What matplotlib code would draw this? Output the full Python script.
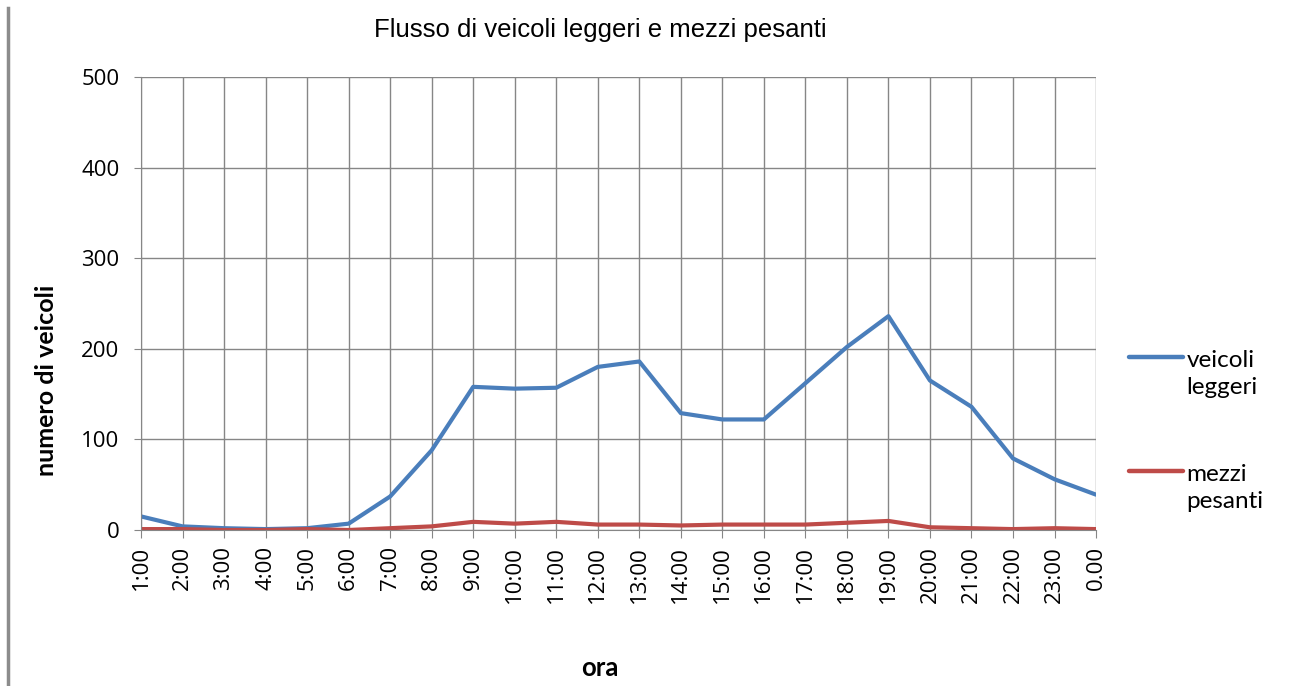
import matplotlib
matplotlib.use("Agg")
import matplotlib.pyplot as plt
import numpy as np

ore = ["1:00", "2:00", "3:00", "4:00", "5:00", "6:00", "7:00", "8:00", "9:00",
       "10:00", "11:00", "12:00", "13:00", "14:00", "15:00", "16:00", "17:00",
       "18:00", "19:00", "20:00", "21:00", "22:00", "23:00", "0.00"]
leggeri = [15, 4, 2, 1, 2, 7, 37, 88, 158, 156, 157, 180, 186, 129, 122, 122,
           162, 202, 236, 165, 136, 79, 56, 39]
pesanti = [1, 1, 0, 0, 1, 0, 2, 4, 9, 7, 9, 6, 6, 5, 6, 6, 6, 8, 10, 3, 2, 1, 2, 1]

grigio = "#868686"

fig = plt.figure(figsize=(12.89, 6.86), dpi=100)
ax = fig.add_axes([0.1094, 0.2274, 0.7409, 0.6604])

x = np.arange(len(ore))
ax.plot(x, leggeri, color="#4A7EBB", lw=3, label="veicoli\nleggeri", solid_capstyle="round")
ax.plot(x, pesanti, color="#BE4B48", lw=3, label="mezzi\npesanti", solid_capstyle="round")

ax.set_xlim(0, len(ore) - 1)
ax.set_ylim(0, 500)
ax.set_yticks(np.arange(0, 501, 100))
ax.set_xticks(x)
ax.set_xticklabels(ore, rotation=90, fontsize=16, family="Open Sans")
ax.tick_params(axis="y", labelsize=16, length=5, color=grigio, pad=10.5)
ax.tick_params(axis="x", length=5.5, color=grigio, pad=6)
for lab in ax.get_yticklabels():
    lab.set_family("Open Sans")

ax.grid(True, color=grigio, lw=1)
ax.set_axisbelow(True)
for s in ["top", "right"]:
    ax.spines[s].set_visible(False)
for s in ["left", "bottom"]:
    ax.spines[s].set_color(grigio)

fig.text(0.466, 0.956, "Flusso di veicoli leggeri e mezzi pesanti", ha="center", va="center",
         fontsize=18.5, family="Liberation Sans")
fig.text(0.465, 0.026, "ora", ha="center", va="center", fontsize=18.5, fontweight="bold", family="Lato")
fig.text(0.036, 0.445, "numero di veicoli", ha="center", va="center", rotation=90,
         fontsize=18, fontweight="bold", family="Lato")

fs = 17.5
leg = ax.legend(loc="upper left", bbox_to_anchor=(0.859, 0.522), bbox_transform=fig.transFigure,
                frameon=False, prop={"family": "Lato", "size": fs}, handlelength=2.2,
                handletextpad=0.16, labelspacing=2.7)
for t in leg.get_texts():
    t.set_linespacing(1.38)
# linee della legenda all'altezza della prima riga
for ln in leg.get_lines():
    ln.set_ydata(np.asarray(ln.get_ydata()) + 0.7 * fs)
    ln.set_linewidth(3.2)

# bordo grigio a sinistra
fig.add_artist(plt.Line2D([0.0065, 0.0065], [0, 0.988], color="#8c8c8c", lw=2.5))

fig.savefig("out.png", dpi=100)
